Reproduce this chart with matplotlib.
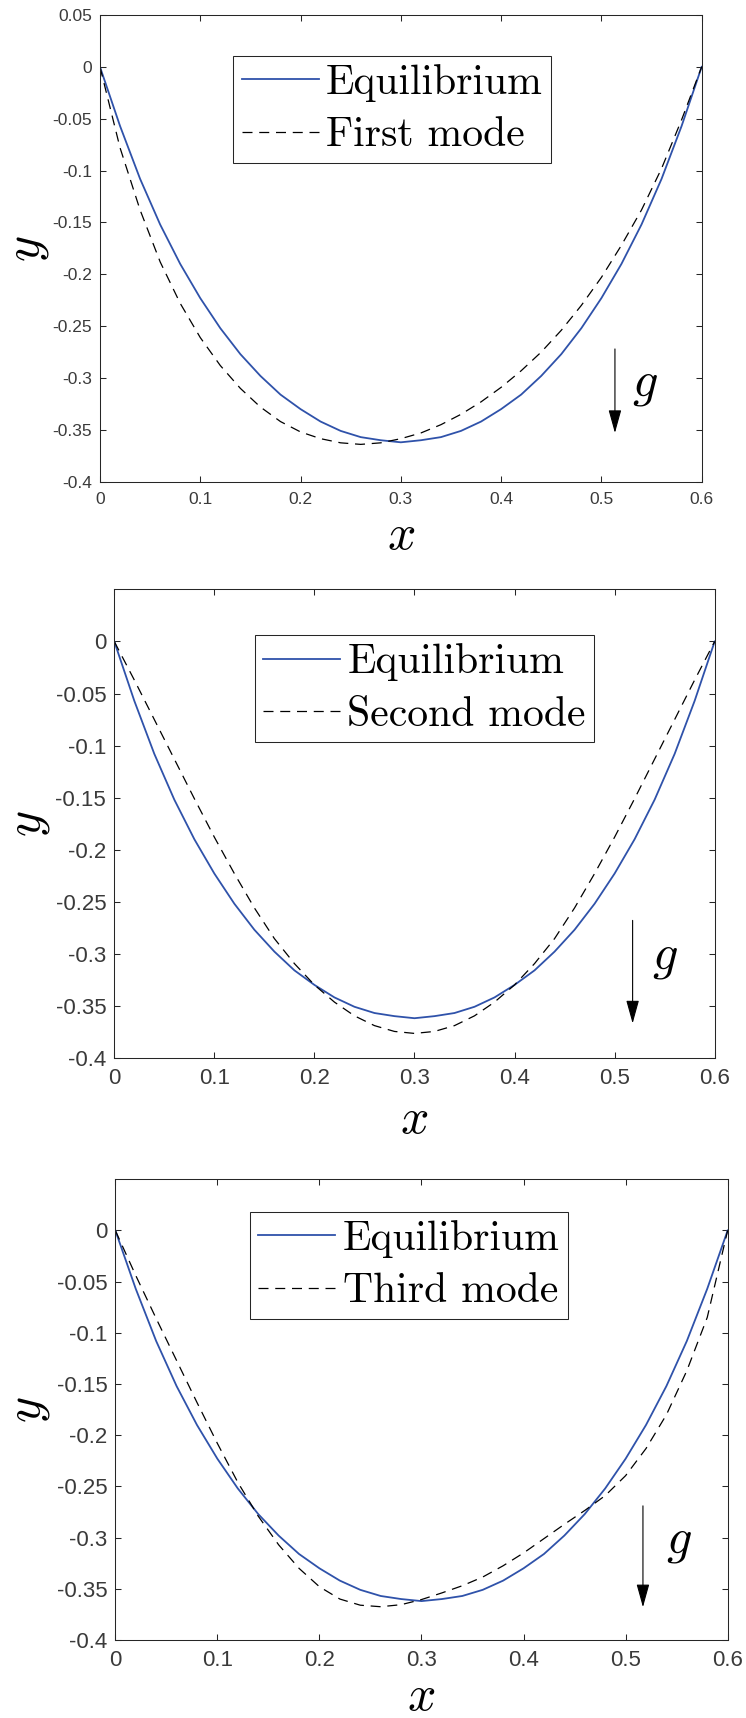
import matplotlib
matplotlib.use("Agg")
import matplotlib.pyplot as plt

# values (x step 0.02)
x_pts = [0.00, 0.02, 0.04, 0.06, 0.08, 0.10, 0.12, 0.14, 0.16, 0.18,
         0.20, 0.22, 0.24, 0.26, 0.28, 0.30, 0.32, 0.34, 0.36, 0.38,
         0.40, 0.42, 0.44, 0.46, 0.48, 0.50, 0.52, 0.54, 0.56, 0.58, 0.60]

equilibrium = [0, -0.057, -0.108, -0.152, -0.190, -0.223, -0.252, -0.277, -0.298, -0.316,
               -0.330, -0.342, -0.351, -0.357, -0.360, -0.362, -0.360, -0.357, -0.351, -0.342,
               -0.330, -0.316, -0.298, -0.277, -0.252, -0.223, -0.190, -0.152, -0.108, -0.057, 0]

first_mode = [0, -0.078, -0.138, -0.188, -0.228, -0.261, -0.288, -0.310, -0.328, -0.342,
              -0.352, -0.3585, -0.3625, -0.364, -0.3625, -0.3585, -0.353, -0.345, -0.335, -0.323,
              -0.309, -0.293, -0.275, -0.254, -0.230, -0.203, -0.172, -0.138, -0.098, -0.051, 0]

second_mode = [0, -0.037, -0.075, -0.113, -0.151, -0.188, -0.223, -0.256, -0.2855, -0.3095,
               -0.330, -0.3465, -0.3597, -0.3691, -0.3747, -0.3766, -0.3747, -0.3691, -0.3597, -0.3465,
               -0.330, -0.3095, -0.2855, -0.256, -0.223, -0.188, -0.151, -0.113, -0.075, -0.037, 0]

third_mode = [0, -0.044, -0.086, -0.127, -0.168, -0.208, -0.246, -0.279, -0.307, -0.330,
              -0.348, -0.360, -0.366, -0.3675, -0.3655, -0.3605, -0.354, -0.347, -0.3385, -0.3275,
              -0.315, -0.301, -0.287, -0.2735, -0.259, -0.2395, -0.213, -0.180, -0.137, -0.085, 0]

modes = [first_mode, second_mode, third_mode]
mode_names = ["First mode", "Second mode", "Third mode"]

x_ticks = [0, 0.1, 0.2, 0.3, 0.4, 0.5, 0.6]
x_tick_labels = ["0", "0.1", "0.2", "0.3", "0.4", "0.5", "0.6"]
y_ticks_first = [-0.4, -0.35, -0.3, -0.25, -0.2, -0.15, -0.1, -0.05, 0, 0.05]
y_labels_first = ["-0.4", "-0.35", "-0.3", "-0.25", "-0.2", "-0.15", "-0.1", "-0.05", "0", "0.05"]
y_ticks = [-0.4, -0.35, -0.3, -0.25, -0.2, -0.15, -0.1, -0.05, 0]
y_labels = ["-0.4", "-0.35", "-0.3", "-0.25", "-0.2", "-0.15", "-0.1", "-0.05", "0"]

# layout of each panel: axes rect, tick font, label offsets, legend corner, arrow + g
panels = [
    dict(rect=[0.1340, 0.7196, 0.8066, 0.2717], tick_fs=12.5, xl=-0.1142, yl=-0.1220,
         leg=(0.2215, 0.9128), arrow=(0.5135, -0.272, -0.353), g=(0.5434, -0.306)),
    dict(rect=[0.1532, 0.3843, 0.8048, 0.2726], tick_fs=16, xl=-0.1309, yl=-0.1440,
         leg=(0.2343, 0.9024), arrow=(0.518, -0.268, -0.367), g=(0.5507, -0.303)),
    dict(rect=[0.1546, 0.0454, 0.8208, 0.2682], tick_fs=16, xl=-0.1210, yl=-0.1430,
         leg=(0.2200, 0.9297), arrow=(0.517, -0.269, -0.368), g=(0.5521, -0.303)),
]

AX_COLOR = "#262626"
BLUE = "#2f52aa"

plt.rcParams["mathtext.fontset"] = "cm"
plt.rcParams["axes.unicode_minus"] = False


def draw_panel(fig, i):
    p = panels[i]
    ax = fig.add_axes(p["rect"])
    ax.plot(x_pts, equilibrium, color=BLUE, lw=1.3, label="Equilibrium")
    ax.plot(x_pts, modes[i], color="k", lw=0.9, linestyle=(0, (8, 5.4)), label=mode_names[i])

    ax.set_xlim(0, 0.6)
    ax.set_ylim(-0.4, 0.05)
    ax.set_xticks(x_ticks)
    ax.set_xticklabels(x_tick_labels)
    if i == 0:
        ax.set_yticks(y_ticks_first)
        ax.set_yticklabels(y_labels_first)
    else:
        ax.set_yticks(y_ticks)
        ax.set_yticklabels(y_labels)

    for s in ax.spines.values():
        s.set_color(AX_COLOR)
        s.set_linewidth(0.75)
    ax.tick_params(direction="in", length=4.5, width=0.75, color=AX_COLOR,
                   top=True, right=True, labelsize=p["tick_fs"], labelcolor="#3a3a3a")
    ax.tick_params(axis="y", pad=5.8)
    ax.tick_params(axis="x", pad=7.5)
    for t in ax.get_xticklabels() + ax.get_yticklabels():
        t.set_fontfamily("Liberation Sans")

    ax.set_xlabel(r"$x$", fontsize=36, va="center")
    ax.xaxis.set_label_coords(0.5, p["xl"])
    ax.set_ylabel(r"$y$", fontsize=36, va="center", rotation=90)
    ax.yaxis.set_label_coords(p["yl"], 0.5)

    leg = ax.legend(loc="upper left", bbox_to_anchor=p["leg"], borderaxespad=0,
                    prop={"family": "cmr10", "size": 30}, fancybox=False, framealpha=1,
                    borderpad=0.2, labelspacing=0.36, handlelength=1.85, handletextpad=0.17)
    leg.get_frame().set_edgecolor(AX_COLOR)
    leg.get_frame().set_linewidth(0.75)

    ax_x, y_top, y_tip = p["arrow"]
    ax.annotate("", xy=(ax_x, y_tip), xytext=(ax_x, y_top),
                arrowprops=dict(arrowstyle="-|>,head_length=0.72,head_width=0.2",
                                mutation_scale=20, color="k", lw=0.8,
                                shrinkA=0, shrinkB=0))
    ax.text(p["g"][0], p["g"][1], r"$g$", fontsize=36, ha="center", va="center")
    return ax


if __name__ == "__main__":
    fig = plt.figure(figsize=(7.46, 17.18), dpi=100)
    for i in range(3):
        draw_panel(fig, i)
    fig.savefig("out.png", dpi=100)
